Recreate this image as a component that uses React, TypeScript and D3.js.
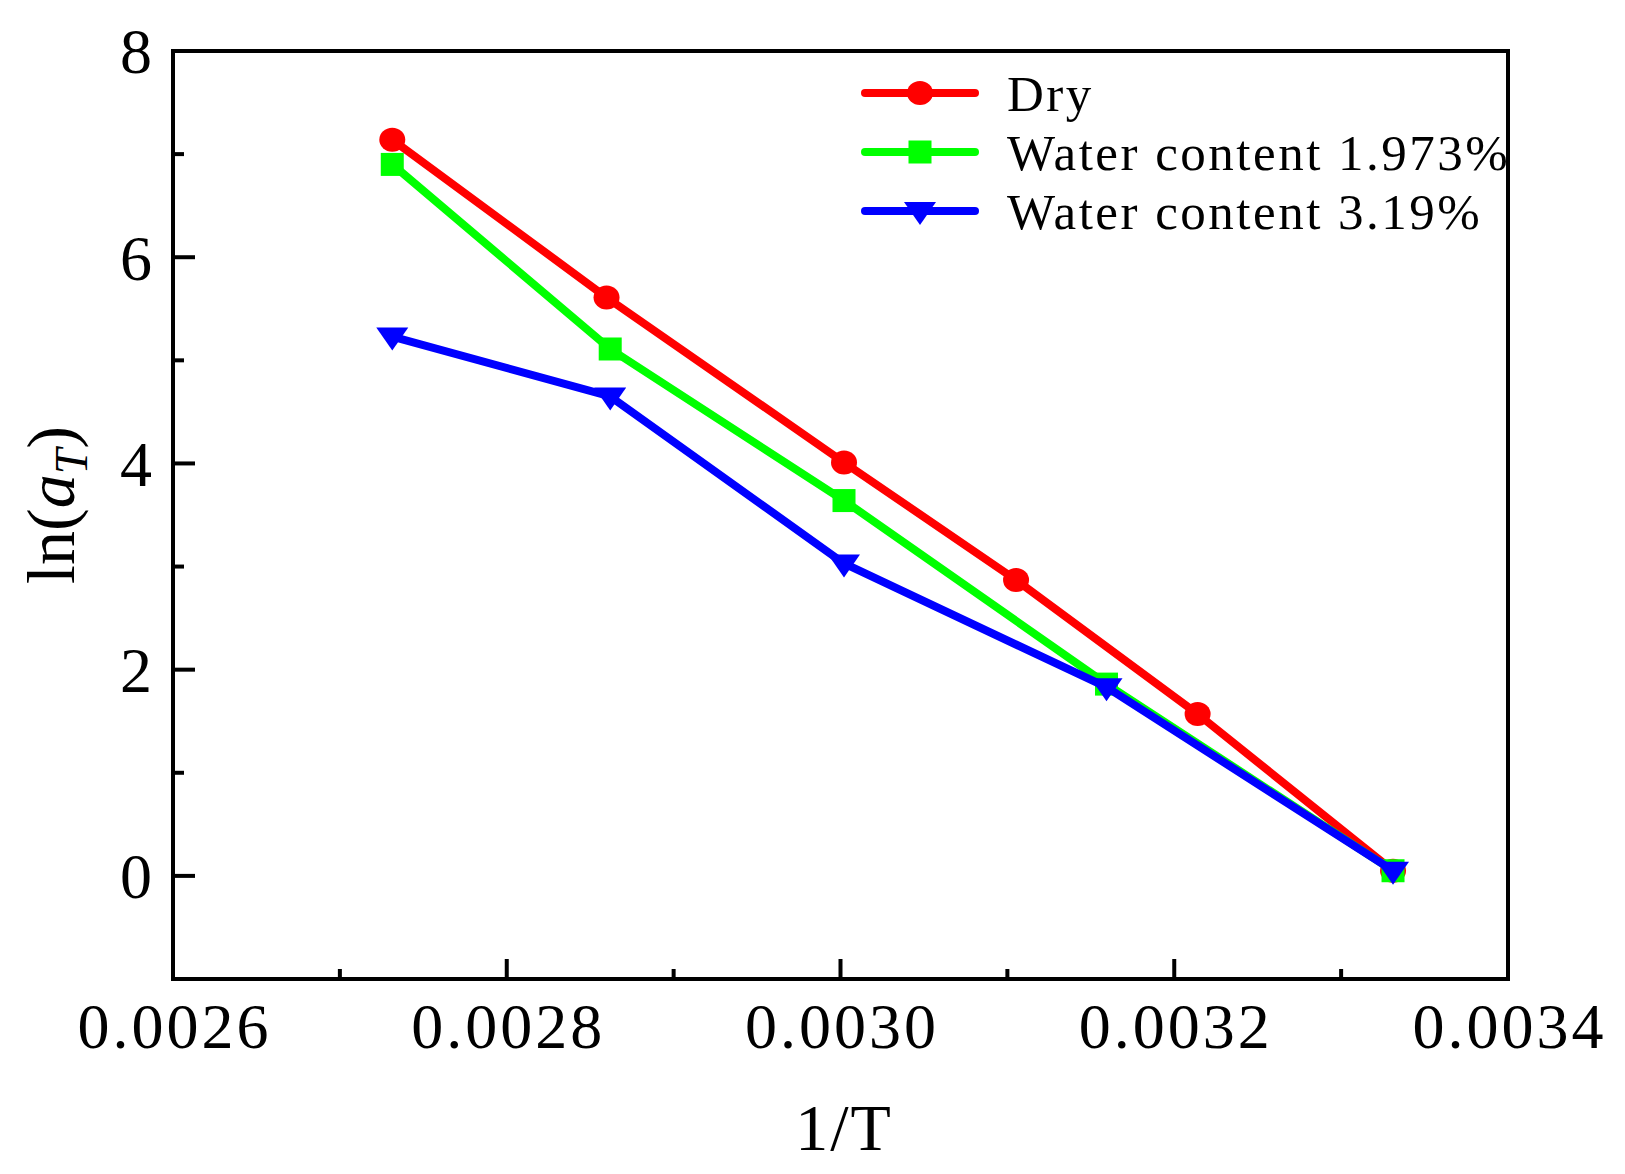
import React, { useEffect, useRef } from 'react';
import * as d3 from 'd3';

// 1/T values (K^-1) and ln(aT) for each condition
const dryX = [0.0027314, 0.0028598, 0.0030021, 0.0031052, 0.003214, 0.0033311];
const dryY = [7.14, 5.61, 4.01, 2.87, 1.57, 0.05];

const wet1X = [0.0027314, 0.002862, 0.0030021, 0.0031594, 0.0033311];
const wet1Y = [6.9, 5.11, 3.64, 1.86, 0.05];

const wet2X = [0.0027314, 0.002862, 0.0030021, 0.0031594, 0.0033311];
const wet2Y = [5.23, 4.65, 3.03, 1.83, 0.05];

const xTicks = [0.0026, 0.0028, 0.003, 0.0032, 0.0034];
const xTickLabels = ['0.0026', '0.0028', '0.0030', '0.0032', '0.0034'];
const xMinor = [0.0027, 0.0029, 0.0031, 0.0033];
const yTicks = [0, 2, 4, 6, 8];
const yMinor = [1, 3, 5, 7];

const seriesNames = ['Dry', 'Water content 1.973%', 'Water content 3.19%'];
const seriesColors = ['#ff0000', '#00ff00', '#0000ff'];

const W = 1625;
const H = 1174;
const margin = { top: 51, right: 117, bottom: 195, left: 173 };
const FONT = '"Liberation Serif", "Times New Roman", serif';

export default function App() {
    const svgRef = useRef<SVGSVGElement>(null);

    useEffect(() => {
        document.body.style.margin = '0';
        if (!svgRef.current) return;
        const svg = d3.select(svgRef.current);
        svg.selectAll('*').remove();

        const x = d3.scaleLinear().domain([0.0026, 0.0034]).range([margin.left, W - margin.right]);
        const y = d3.scaleLinear().domain([-1, 8]).range([H - margin.bottom, margin.top]);

        const series = [
            { xs: dryX, ys: dryY, marker: 'circle' },
            { xs: wet1X, ys: wet1Y, marker: 'square' },
            { xs: wet2X, ys: wet2Y, marker: 'triangle' },
        ];

        const drawMarker = (g: d3.Selection<SVGGElement, unknown, null, undefined>, kind: string, cx: number, cy: number, color: string) => {
            if (kind === 'circle') {
                g.append('ellipse').attr('cx', cx).attr('cy', cy).attr('rx', 13).attr('ry', 12).attr('fill', color);
            } else if (kind === 'square') {
                g.append('rect').attr('x', cx - 11.5).attr('y', cy - 11.5).attr('width', 23).attr('height', 23).attr('fill', color);
            } else {
                g.append('path')
                    .attr('d', `M${cx - 16},${cy - 9} L${cx + 16},${cy - 9} L${cx},${cy + 14} Z`)
                    .attr('fill', color);
            }
        };

        const plot = svg.append('g');
        const line = d3.line<[number, number]>().x(d => x(d[0])).y(d => y(d[1]));

        series.forEach((s, i) => {
            const pts = s.xs.map((v, j) => [v, s.ys[j]] as [number, number]);
            plot.append('path')
                .datum(pts)
                .attr('d', line)
                .attr('fill', 'none')
                .attr('stroke', seriesColors[i])
                .attr('stroke-width', 8)
                .attr('stroke-linejoin', 'round');
            pts.forEach(p => drawMarker(plot, s.marker, x(p[0]), y(p[1]), seriesColors[i]));
        });

        // frame
        const x0 = x(0.0026), x1 = x(0.0034), y0 = y(-1), y1 = y(8);
        svg.append('rect')
            .attr('x', x0).attr('y', y1)
            .attr('width', x1 - x0).attr('height', y0 - y1)
            .attr('fill', 'none').attr('stroke', '#000').attr('stroke-width', 4);

        // ticks (inward)
        const axis = svg.append('g').attr('stroke', '#000').attr('stroke-width', 4);
        xTicks.forEach(t => axis.append('line').attr('x1', x(t)).attr('x2', x(t)).attr('y1', y0).attr('y2', y0 - 20));
        xMinor.forEach(t => axis.append('line').attr('x1', x(t)).attr('x2', x(t)).attr('y1', y0).attr('y2', y0 - 10));
        yTicks.forEach(t => axis.append('line').attr('x1', x0).attr('x2', x0 + 22).attr('y1', y(t)).attr('y2', y(t)));
        yMinor.forEach(t => axis.append('line').attr('x1', x0).attr('x2', x0 + 11).attr('y1', y(t)).attr('y2', y(t)));

        const labels = svg.append('g').attr('font-family', FONT).attr('fill', '#000');
        xTicks.forEach((t, i) => {
            labels.append('text')
                .attr('x', x(t) + 1.5).attr('y', 1048)
                .attr('text-anchor', 'middle')
                .attr('font-size', 64)
                .attr('letter-spacing', 3)
                .text(xTickLabels[i]);
        });
        yTicks.forEach(t => {
            labels.append('text')
                .attr('x', 152).attr('y', y(t))
                .attr('dy', '0.35em')
                .attr('text-anchor', 'end')
                .attr('font-size', 64)
                .text(String(t));
        });

        labels.append('text')
            .attr('x', 844).attr('y', 1150)
            .attr('text-anchor', 'middle')
            .attr('font-size', 66)
            .attr('letter-spacing', 2)
            .text('1/T');

        const yl = labels.append('text')
            .attr('transform', `translate(74,505) rotate(-90)`)
            .attr('text-anchor', 'middle')
            .attr('font-size', 68);
        yl.append('tspan').text('ln(');
        yl.append('tspan').attr('font-style', 'italic').text('a');
        yl.append('tspan').attr('font-style', 'italic').attr('font-size', 46).attr('dy', 13).text('T');
        yl.append('tspan').attr('dy', -13).text(')');

        // legend
        const legend = svg.append('g');
        seriesNames.forEach((name, i) => {
            const ly = 93 + i * 59;
            legend.append('line')
                .attr('x1', 865).attr('x2', 975).attr('y1', ly).attr('y2', ly)
                .attr('stroke', seriesColors[i]).attr('stroke-width', 8).attr('stroke-linecap', 'round');
            drawMarker(legend, series[i].marker, 920, ly, seriesColors[i]);
            legend.append('text')
                .attr('x', 1007).attr('y', ly)
                .attr('dy', '0.35em')
                .attr('font-family', FONT)
                .attr('font-size', 51)
                .attr('letter-spacing', 2.5)
                .text(name);
        });
    }, []);

    return (
        <svg ref={svgRef} width={W} height={H} style={{ display: 'block', background: '#fff' }} />
    );
}
